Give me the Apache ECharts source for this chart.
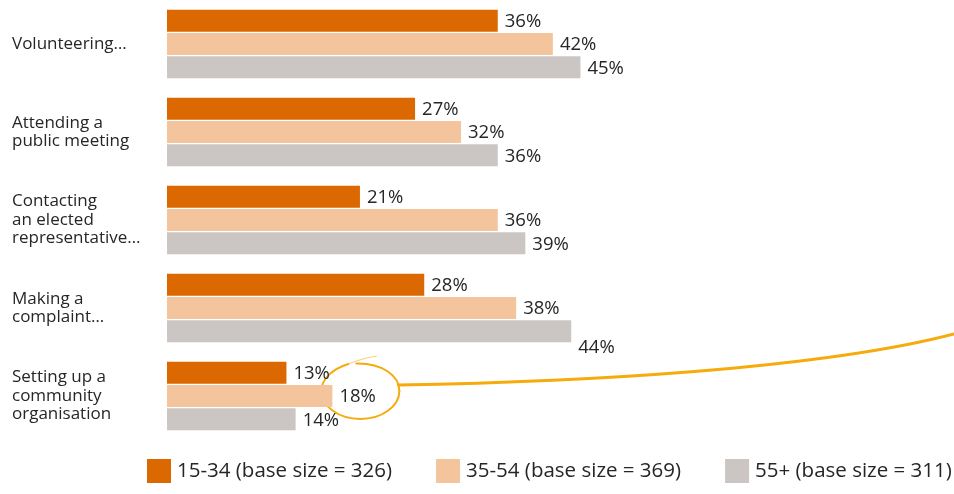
<!DOCTYPE html>
<html>
<head>
<meta charset="utf-8">
<script src="https://cdn.jsdelivr.net/npm/echarts@6/dist/echarts.min.js"></script>
<style>
  html, body { margin: 0; padding: 0; background: #ffffff; }
  #chart { width: 954px; height: 494px; }
</style>
</head>
<body>
<div id="chart"></div>
<script>
// Civic activities by age group (% of respondents)
const categories = [
  'Volunteering…',
  'Attending a\npublic meeting',
  'Contacting\nan elected\nrepresentative…',
  'Making a\ncomplaint…',
  'Setting up a\ncommunity\norganisation'
];
const seriesNames = [
  '15-34 (base size = 326)',
  '35-54 (base size = 369)',
  '55+ (base size = 311)'
];
const age15to34 = [36, 27, 21, 28, 13];
const age35to54 = [42, 32, 36, 38, 18];
const age55plus = [45, 36, 39, 44, 14];

const colors = ['#db6800', '#f4c59d', '#cbc6c3'];
const FONT = '"Open Sans", "Noto Sans", sans-serif';
const TEXT = '#262626';
const HIGHLIGHT = '#f6ab0c';

const chart = echarts.init(document.getElementById('chart'), null, { renderer: 'canvas' });

function makeSeries(name, values, color, idx) {
  return {
    name: name,
    type: 'bar',
    barWidth: 22,
    barGap: '6%',
    itemStyle: { color: color },
    label: {
      show: true,
      position: 'right',
      distance: 7,
      offset: [0, 1],
      formatter: '{c}%',
      color: TEXT,
      fontFamily: FONT,
      fontSize: 18.5
    },
    data: values.map(function (v, i) {
      // the 55+ "Making a complaint" label sits just under its bar
      if (idx === 2 && i === 3) {
        return { value: v, label: { offset: [0, 16] } };
      }
      return v;
    }),
    emphasis: { disabled: true },
    animation: false
  };
}

chart.setOption({
  animation: false,
  color: colors,
  grid: { left: 167, right: 52, top: 0, height: 440, containLabel: false },
  xAxis: {
    type: 'value',
    min: 0,
    max: 80,
    show: false,
    splitLine: { show: false }
  },
  yAxis: {
    type: 'category',
    inverse: true,
    data: categories,
    axisLine: { show: false },
    axisTick: { show: false },
    axisLabel: {
      align: 'left',
      margin: 155,
      color: TEXT,
      fontFamily: FONT,
      fontSize: 17,
      lineHeight: 18.5
    }
  },
  legend: {
    left: 147,
    top: 459,
    padding: 0,
    icon: 'rect',
    itemWidth: 24,
    itemHeight: 24,
    itemGap: 44,
    selectedMode: false,
    textStyle: {
      color: TEXT,
      fontFamily: FONT,
      fontSize: 20.5,
      lineHeight: 24,
      padding: [0, 0, 0, 1]
    },
    data: seriesNames
  },
  series: [
    makeSeries(seriesNames[0], age15to34, colors[0], 0),
    makeSeries(seriesNames[1], age35to54, colors[1], 1),
    makeSeries(seriesNames[2], age55plus, colors[2], 2)
  ]
});

// Hand-drawn highlight around the 35-54 "community organisation" value,
// with a swooping line out to the right edge.
function drawHighlight() {
  const i = 4;
  const v = age35to54[i];
  const end = chart.convertToPixel({ gridIndex: 0 }, [v, i]);
  const cx = end[0] + 28;
  const cy = end[1] - 5;
  const rx = 39, ry = 28, k = 0.5523;
  const stroke = { stroke: HIGHLIGHT, lineWidth: 2, fill: null, lineCap: 'round' };
  const seg = function (x1, y1, c1x, c1y, c2x, c2y, x2, y2, w, op) {
    return {
      type: 'bezierCurve',
      silent: true,
      shape: { x1: x1, y1: y1, cpx1: c1x, cpy1: c1y, cpx2: c2x, cpy2: c2y, x2: x2, y2: y2 },
      style: Object.assign({}, stroke, w ? { lineWidth: w } : {}, op ? { opacity: op } : {})
    };
  };
  const W = chart.getWidth();
  const elements = [
    // faint flick where the pen starts
    seg(cx + 16, cy - 35, cx + 6, cy - 33, cx - 3, cy - 31, cx - 12, cy - 27, 1.2, 0.55),
    // upper-left quarter
    seg(cx - 12, cy - 27, cx - 28, cy - 22, cx - rx, cy - 12, cx - rx, cy),
    // lower-left quarter
    seg(cx - rx, cy, cx - rx, cy + ry * k, cx - rx * k, cy + ry, cx, cy + ry),
    // lower-right quarter
    seg(cx, cy + ry, cx + rx * k, cy + ry, cx + rx, cy + ry * k, cx + rx, cy),
    // upper-right quarter, closing past the start
    seg(cx + rx, cy, cx + rx, cy - ry * k, cx + rx * k, cy - ry, cx - 4, cy - ry + 0.5),
    // pointer line to the right edge
    {
      type: 'bezierCurve',
      silent: true,
      shape: {
        x1: cx + rx - 1, y1: cy - 6,
        cpx1: cx + 220, cpy1: cy - 9,
        cpx2: cx + 460, cpy2: cy - 22,
        x2: W, y2: cy - 57
      },
      style: { stroke: HIGHLIGHT, lineWidth: 3, fill: null, lineCap: 'round' }
    }
  ];
  chart.setOption({ graphic: { elements: elements } });
}
drawHighlight();
</script>
</body>
</html>
